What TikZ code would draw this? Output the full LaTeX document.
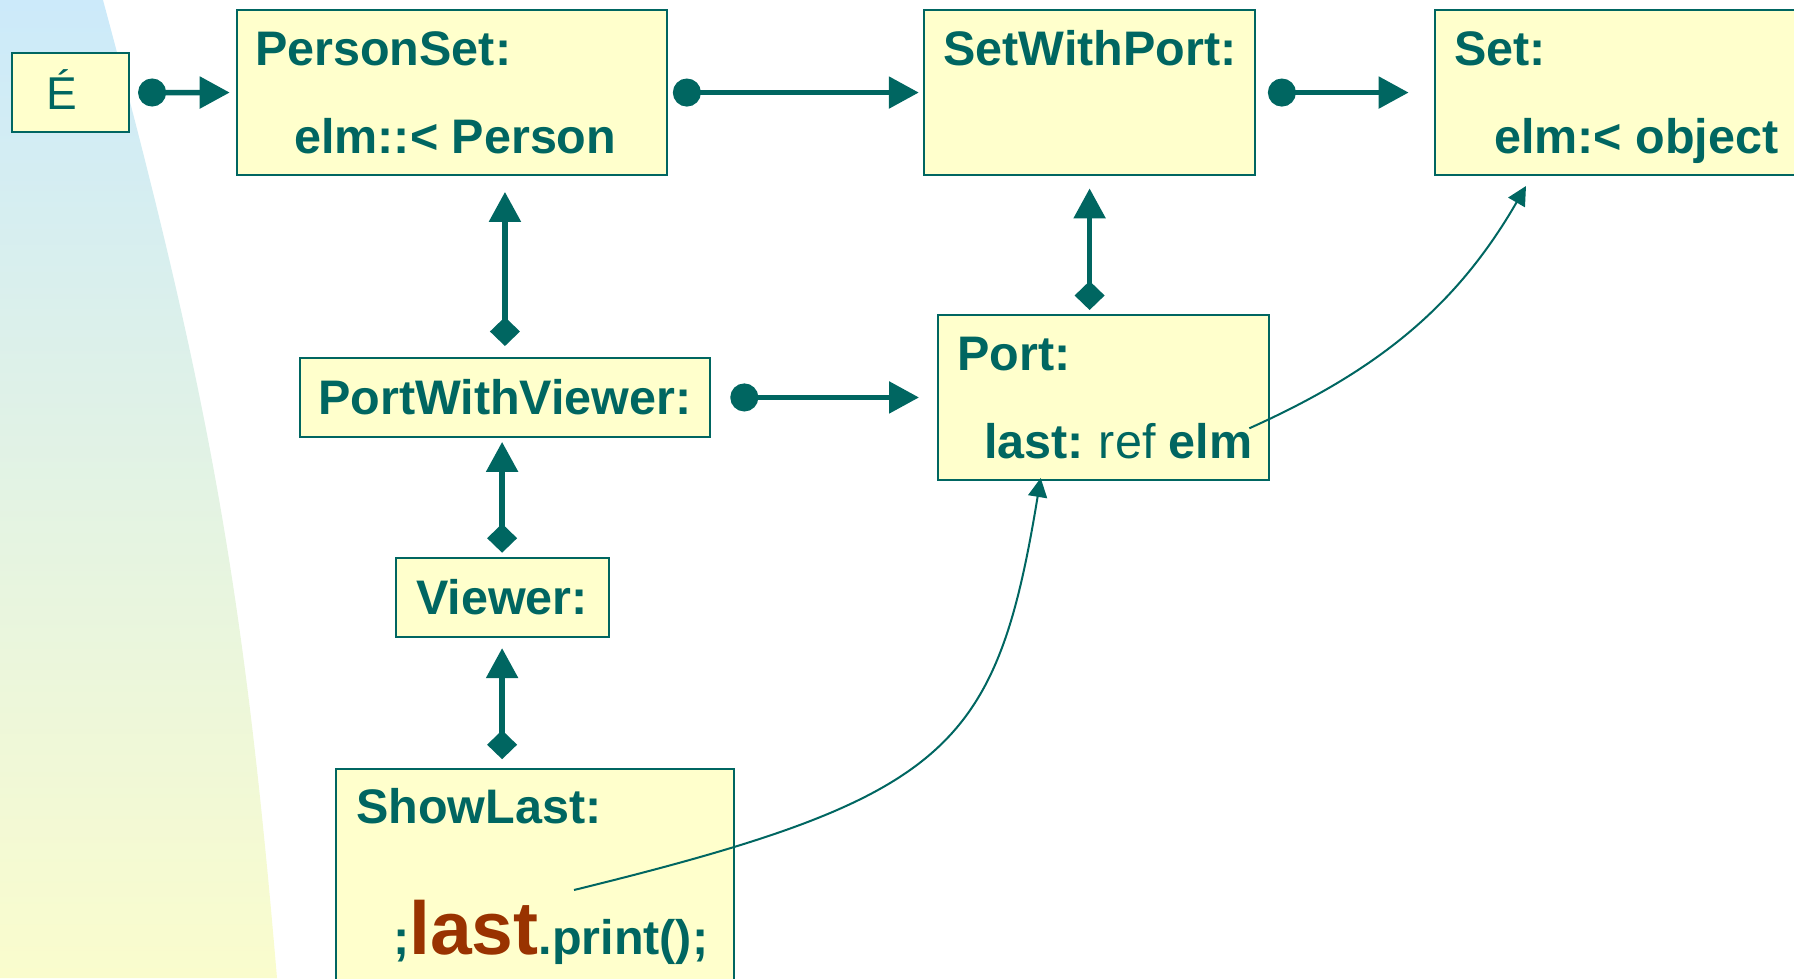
\documentclass[tikz,border=0pt]{standalone}
\usepackage{fontspec}
\setmainfont{Liberation Sans}
\usetikzlibrary{arrows.meta,calc}
\definecolor{tealink}{RGB}{0,102,97}
\definecolor{boxfill}{RGB}{255,255,204}
\definecolor{brownink}{RGB}{153,51,0}
\definecolor{bgtop}{RGB}{204,234,250}
\definecolor{bgbot}{RGB}{250,252,205}
\tikzset{
  objbox/.style={draw=tealink, line width=2pt, fill=boxfill, inner sep=0pt, anchor=north west},
  lbl/.style={inner sep=0pt, anchor=base west, text=tealink, font=\fontsize{48.5}{58}\selectfont\bfseries},
  flow/.style={draw=tealink, line width=5.5pt, arrows={Circle[length=28pt]-Triangle[length=30pt,width=31pt]}},
  part/.style={draw=tealink, line width=5.5pt, arrows={Diamond[length=29pt,width=30pt]-Triangle[length=30pt,width=31pt]}},
  refline/.style={draw=tealink, line width=2pt, arrows={-Triangle[length=19pt,width=19pt]}},
}
\begin{document}
\begin{tikzpicture}[x=1pt,y=-1pt]
\useasboundingbox (0,0) rectangle (1794,978);
\clip (0,0) rectangle (1794,978);

% shaded sweep on the left
\shade[top color=bgtop,bottom color=bgbot]
  (0,0) -- (103,0) .. controls (207,386.4) and (243.4,579.6) .. (277,978) -- (0,978) -- cycle;

% object boxes
\node[objbox, minimum width=116.7pt, minimum height=79pt]   (E)      at (11.4,52)    {};
\node[objbox, minimum width=430.2pt, minimum height=164.7pt] (PS)     at (235.7,9.2)  {};
\node[objbox, minimum width=330.6pt, minimum height=164.7pt] (SWP)    at (923.3,9.2)  {};
\node[objbox, minimum width=376pt,   minimum height=164.7pt] (Set)    at (1433.6,9.2) {};
\node[objbox, minimum width=330.7pt, minimum height=165.9pt] (Port)   at (937,313.5)  {};
\node[objbox, minimum width=410.7pt, minimum height=78.9pt]  (PWV)    at (298.6,357)  {};
\node[objbox, minimum width=212.8pt, minimum height=78.9pt]  (Viewer) at (394.7,557.2) {};
\node[objbox, minimum width=398.2pt, minimum height=222.3pt] (SL)     at (335.2,767.7) {};

% labels
\node[inner sep=0pt, anchor=base, text=tealink, font=\fontsize{46}{54}\selectfont] (tE) at (62,109) {É};
\node[lbl] (tPS1)   at (255,65.7)   {PersonSet:};
\node[lbl] (tPS2)   at (294,153.3)  {elm::< Person};
\node[lbl] (tSWP)   at (943,65.7)   {SetWithPort:};
\node[lbl] (tSet1)  at (1454,65.7)  {Set:};
\node[lbl] (tSet2)  at (1494,153)   {elm:< object};
\node[lbl] (tPort1) at (957,370.7)  {Port:};
\node[lbl] (tPort2) at (984,458.3)  {last:\hspace{-3pt} {\mdseries ref} elm};
\node[lbl] (tPWV)   at (318,414.3)  {PortWithViewer:};
\node[lbl] (tV)     at (416,614.3)  {Viewer:};
\node[lbl] (tSL1)   at (356,823.7)  {ShowLast:};
\node[lbl] (tSL2)   at (393,954)    {;{\color{brownink}\fontsize{75}{82}\selectfont last}.print();};

% horizontal links
\draw[flow] ([xshift=8pt]E.east)    -- ([xshift=-6pt]PS.west);
\draw[flow] ([xshift=5pt]PS.east)   -- ([xshift=-4.5pt]SWP.west);
\draw[flow] ([xshift=12pt]SWP.east) -- ([xshift=-25pt]Set.west);
\draw[flow] ([xshift=19pt]PWV.east) -- ([xshift=-18pt]Port.west);

% vertical part-of links
\draw[part] ($(PWV.north)+(0,-11)$) -- ($(PWV.north |- PS.south)+(0,16)$);
\draw[part] ($(SWP.south |- Port.north)+(0,-3.5)$) -- ($(SWP.south)+(0,12.5)$);
\draw[part] ($(Viewer.north)+(0,-4.5)$) -- ($(Viewer.north |- PWV.south)+(0,4)$);
\draw[part] ($(Viewer.south |- SL.north)+(0,-8.5)$) -- ($(Viewer.south)+(0,10)$);

% reference curves
\coordinate (lastTail) at (574,890);
\coordinate (portIn)   at (1040.7,478);
\draw[refline] (lastTail) .. controls (949,798) and (996,750) .. (portIn);
\coordinate (elmTail) at (1249.3,428.3);
\coordinate (setIn)   at (1526,186);
\draw[refline] (elmTail) .. controls (1377,370.9) and (1456,307.2) .. (setIn);
\end{tikzpicture}
\end{document}
